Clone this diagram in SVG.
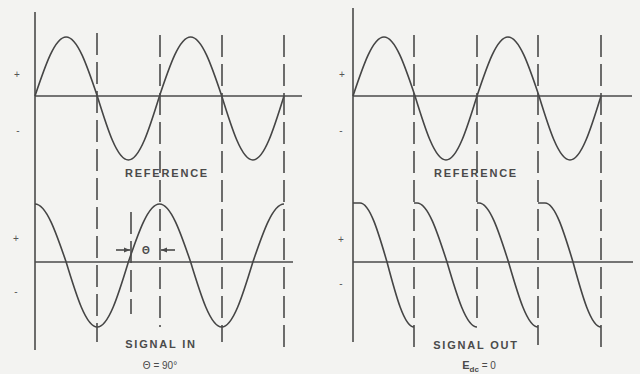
<svg xmlns="http://www.w3.org/2000/svg" width="640" height="374" viewBox="0 0 640 374">
<style>
.bg{fill:#f3f3f1}
.ax{stroke:#4a4a4a;stroke-width:1.6;fill:none}
.wave{stroke:#454545;stroke-width:1.6;fill:none;stroke-linejoin:round}
.dash{stroke:#4a4a4a;stroke-width:1.6;fill:none;stroke-dasharray:22,7}
.lbl{font-family:"Liberation Sans",Arial,sans-serif;font-size:11px;font-weight:bold;letter-spacing:1.8px;fill:#4a4a4a;text-anchor:middle}
.sgn{font-family:"Liberation Sans",Arial,sans-serif;font-size:10px;fill:#555;text-anchor:middle}
.sub{font-family:"Liberation Sans",Arial,sans-serif;font-size:10px;fill:#4a4a4a;text-anchor:middle}
</style>
<defs>
<marker id="ah" viewBox="0 0 10 10" refX="10" refY="5" markerWidth="6" markerHeight="6" orient="auto-start-reverse" markerUnits="userSpaceOnUse">
<path d="M0,1 L10,5 L0,9 z" fill="#4a4a4a"/>
</marker>
</defs>
<rect class="bg" x="0" y="0" width="640" height="374"/>

<g id="ref-left">
<line class="ax" x1="35" y1="12" x2="35" y2="350"/>
<line class="ax" x1="35" y1="96" x2="302" y2="96"/>
<path class="wave" d="M35,96 c10.15,-30.23 19.86,-59 31.125,-59 c11.26,0 20.97,28.77 31.125,59 c10.15,32.79 19.86,64 31.125,64 c11.26,0 20.97,-31.21 31.125,-64 c10.15,-30.23 19.86,-59 31.125,-59 c11.26,0 20.97,28.77 31.125,59 c10.15,32.79 19.86,64 31.125,64 c11.26,0 20.97,-31.21 31.125,-64"/>
<text class="sgn" x="17" y="78">+</text>
<text class="sgn" x="18" y="134">-</text>
<text class="lbl" x="167" y="177">REFERENCE</text>
</g>

<g id="sig-in">
<line class="ax" x1="35" y1="262" x2="293" y2="262"/>
<path class="wave" d="M35,204 c11.26,0 20.97,28.29 31.125,58 c10.15,33.3 19.86,65 31.125,65 c11.26,0 20.97,-31.7 31.125,-65 c10.15,-29.71 19.86,-58 31.125,-58 c11.26,0 20.97,28.29 31.125,58 c10.15,33.3 19.86,65 31.125,65 c11.26,0 20.97,-31.7 31.125,-65 c10.15,-29.71 19.86,-58 31.125,-58"/>
<text class="sgn" x="16" y="242">+</text>
<text class="sgn" x="16" y="295">-</text>
<text class="lbl" x="161" y="348">SIGNAL IN</text>
<text class="sub" x="160" y="369">Θ = 90°</text>
<line class="ax" x1="116" y1="250" x2="130" y2="250" marker-end="url(#ah)" stroke-width="1.2"/>
<line class="ax" x1="175" y1="250" x2="161" y2="250" marker-end="url(#ah)" stroke-width="1.2"/>
<text class="sub" x="146" y="254" font-weight="bold" font-size="11">Θ</text>
</g>

<g id="ref-right">
<line class="ax" x1="353" y1="8" x2="353" y2="342"/>
<line class="ax" x1="353" y1="96" x2="632" y2="96"/>
<path class="wave" d="M353,96 c10.11,-30.23 19.78,-59 31,-59 c11.22,0 20.89,28.77 31,59 c10.11,32.79 19.78,64 31,64 c11.22,0 20.89,-31.21 31,-64 c10.11,-30.23 19.78,-59 31,-59 c11.22,0 20.89,28.77 31,59 c10.11,32.79 19.78,64 31,64 c11.22,0 20.89,-31.21 31,-64"/>
<text class="sgn" x="342" y="78">+</text>
<text class="sgn" x="341" y="134">-</text>
<text class="lbl" x="476" y="177">REFERENCE</text>
</g>

<g id="sig-out">
<line class="ax" x1="353" y1="262" x2="633" y2="262"/>
<path class="wave" d="M353,203 L360,203 c9.77,0 18.2,28.77 27,59 c8.8,33.3 17.23,65 27,65"/>
<path class="wave" d="M414,203 L417,203 c10.86,0 20.22,28.77 30,59 c9.78,33.3 19.14,65 30,65"/>
<path class="wave" d="M477,203 L479,203 c10.68,0 19.88,28.77 29.5,59 c9.62,33.3 18.82,65 29.5,65"/>
<path class="wave" d="M538,203 L545,203 c10.13,0 18.87,28.77 28,59 c9.13,33.3 17.87,65 28,65"/>
<text class="sgn" x="341" y="243">+</text>
<text class="sgn" x="341" y="287">-</text>
<text class="lbl" x="476" y="349">SIGNAL OUT</text>
<text class="sub" x="479" y="369"><tspan font-weight="bold" font-size="11">E</tspan><tspan font-weight="bold" font-size="8" dy="3">dc</tspan><tspan dy="-3"> = 0</tspan></text>
</g>

<g id="connectors">
<line class="dash" x1="97" y1="33" x2="97" y2="342"/>
<line class="dash" x1="160" y1="35" x2="160" y2="327"/>
<line class="dash" x1="222" y1="35" x2="222" y2="342"/>
<line class="dash" x1="284" y1="35" x2="284" y2="352"/>
<line class="dash" x1="131" y1="212" x2="131" y2="314"/>
<line class="dash" x1="414" y1="35" x2="414" y2="350"/>
<line class="dash" x1="477" y1="35" x2="477" y2="324"/>
<line class="dash" x1="538" y1="35" x2="538" y2="345"/>
<line class="dash" x1="601" y1="35" x2="601" y2="350"/>
</g>
</svg>
